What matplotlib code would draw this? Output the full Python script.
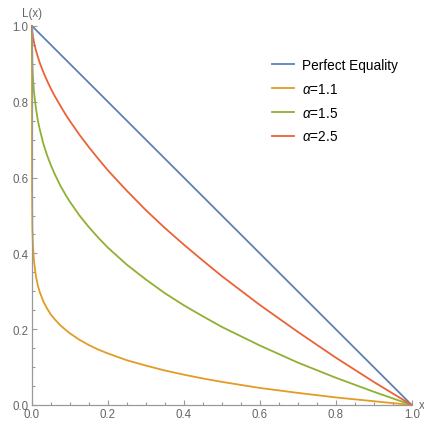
import matplotlib
matplotlib.use("Agg")
import matplotlib.pyplot as plt
from matplotlib.ticker import MultipleLocator

plt.rcParams['font.family'] = ['Liberation Sans', 'DejaVu Sans']
plt.rcParams['mathtext.fontset'] = 'custom'
plt.rcParams['mathtext.it'] = 'Liberation Sans:italic'
plt.rcParams['mathtext.rm'] = 'Liberation Sans'

# values
x = [0, 1e-6, 1e-5, 1e-4, 0.001, 0.0025, 0.005, 0.01, 0.015, 0.02,
     0.03, 0.04, 0.05, 0.06, 0.075, 0.09, 0.1, 0.125, 0.15, 0.175,
     0.2, 0.25, 0.3, 0.35, 0.4, 0.45, 0.5, 0.6, 0.7, 0.8, 0.9, 1.0]
equality = [1 - v for v in x]
alpha_11 = [1.0, 0.715, 0.649, 0.567, 0.466, 0.420, 0.382, 0.342, 0.317, 0.299,
            0.273, 0.254, 0.238, 0.226, 0.210, 0.197, 0.189, 0.172, 0.158, 0.146,
            0.136, 0.118, 0.104, 0.091, 0.080, 0.070, 0.061, 0.045, 0.032, 0.020, 0.010, 0.0]
alpha_15 = [1.0, 0.990, 0.978, 0.954, 0.900, 0.864, 0.829, 0.785, 0.753, 0.729,
            0.689, 0.658, 0.632, 0.609, 0.578, 0.552, 0.536, 0.500, 0.469, 0.441,
            0.415, 0.370, 0.331, 0.295, 0.263, 0.234, 0.206, 0.157, 0.112, 0.072, 0.035, 0.0]
alpha_25 = [1.0, 1.0, 0.999, 0.996, 0.984, 0.973, 0.958, 0.937, 0.920, 0.904,
            0.878, 0.855, 0.834, 0.815, 0.789, 0.764, 0.749, 0.713, 0.680, 0.649,
            0.619, 0.565, 0.514, 0.467, 0.423, 0.381, 0.340, 0.264, 0.193, 0.125, 0.061, 0.0]

series = [equality, alpha_11, alpha_15, alpha_25]
labels = ['Perfect Equality', r'$\alpha$=1.1', r'$\alpha$=1.5', r'$\alpha$=2.5']
colors = ['#5E81B5', '#E19C24', '#8FB032', '#EB6235']

fig = plt.figure(figsize=(4.24, 4.27), dpi=100)
ax = fig.add_axes([32/424, 21/427, 379.7/424, 379/427])

for ys, lab, c in zip(series, labels, colors):
    ax.plot(x, ys, color=c, lw=1.3, label=lab, clip_on=False)

ax.set_xlim(0, 1)
ax.set_ylim(0, 1)
ax.xaxis.set_major_locator(MultipleLocator(0.2))
ax.xaxis.set_minor_locator(MultipleLocator(0.05))
ax.yaxis.set_major_locator(MultipleLocator(0.2))
ax.yaxis.set_minor_locator(MultipleLocator(0.05))
ax.tick_params(which='both', direction='in', colors='#999999', labelcolor='#666666',
               labelsize=8.3, width=0.8)
ax.tick_params(which='major', length=3.5)
ax.tick_params(which='minor', length=2)
ax.tick_params(axis='x', pad=2.5)
ax.tick_params(axis='y', pad=2.5)
for s in ['top', 'right']:
    ax.spines[s].set_visible(False)
for s in ['left', 'bottom']:
    ax.spines[s].set_color('#999999')
    ax.spines[s].set_linewidth(0.9)

ax.annotate('L(x)', xy=(0, 1), xycoords='axes fraction', xytext=(0, 5),
            textcoords='offset points', ha='center', va='bottom',
            fontsize=8.3, color='#666666')
ax.annotate('x', xy=(1, 0), xycoords='axes fraction', xytext=(5, 0),
            textcoords='offset points', ha='left', va='center',
            fontsize=8.3, color='#666666')

ax.legend(loc='upper left', bbox_to_anchor=(0.60, 0.948), frameon=False,
          fontsize=9.8, handlelength=1.6, handletextpad=0.6, labelspacing=0.72)

fig.savefig('out.png', dpi=100)
